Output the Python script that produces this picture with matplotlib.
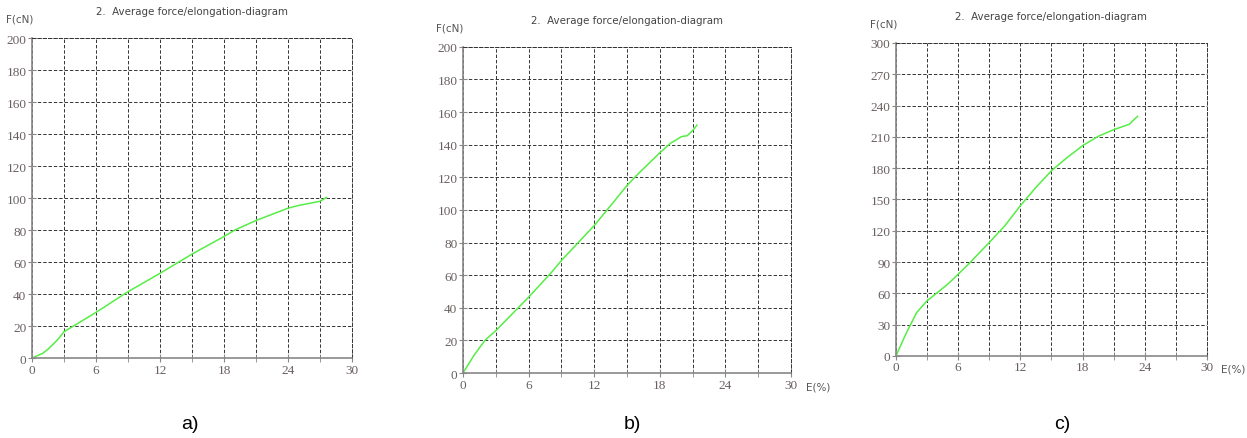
import matplotlib
matplotlib.use("Agg")
import matplotlib.pyplot as plt
from matplotlib.ticker import MultipleLocator

# force/elongation curves
elong_a = [0, 0.5, 1, 1.5, 2, 2.5, 3, 4, 6, 9, 12, 15, 18, 19, 21, 24, 25, 27, 27.6]
force_a = [0, 1.5, 3, 5.6, 8.8, 12.3, 16.5, 20.5, 28.6, 41.5, 53, 65, 76, 80, 86, 93.7, 95.4, 98, 100.4]

elong_b = [0, 1, 2, 3, 6, 8, 9, 12, 13.5, 15, 16, 18, 19, 20, 20.5, 21, 21.4]
force_b = [0, 10.8, 20, 26, 46.5, 61, 69, 90.4, 102.6, 115, 122, 135, 141, 145, 145.5, 148.6, 152]

elong_c = [0, 1, 2, 3, 4, 5, 6, 7, 9, 10.5, 12, 13.5, 15, 16.5, 18, 19.5, 21, 22.5, 23.3]
force_c = [0, 22, 41.6, 52.8, 60.8, 68.8, 78.3, 88, 108.7, 124.7, 144, 161.5, 177.5, 190, 201.5, 210.4, 216.8, 222, 229.6]

panel_labels = ["a)", "b)", "c)"]
y_max = [200, 200, 300]
y_step = [20, 20, 30]
title = "2.  Average force/elongation-diagram"

# axes rectangles in figure fraction (left, bottom, width, height)
rects = [
    (0.0257, 0.182, 0.2566, 0.729),
    (0.3713, 0.148, 0.2630, 0.743),
    (0.7185, 0.187, 0.2494, 0.713),
]
label_x = [0.152, 0.507, 0.852]
show_e_label = [False, True, True]

fig = plt.figure(figsize=(12.47, 4.39), dpi=100)

grid_style = dict(color="#333333", linestyle=(0, (3.5, 2)), linewidth=0.7)

data = [(elong_a, force_a), (elong_b, force_b), (elong_c, force_c)]
for i, (x, y) in enumerate(data):
    ax = fig.add_axes(rects[i])
    ax.plot(x, y, color="#55ee44", linewidth=1.1)
    ax.set_xlim(0, 30)
    ax.set_ylim(0, y_max[i])
    ax.xaxis.set_major_locator(MultipleLocator(6))
    ax.xaxis.set_minor_locator(MultipleLocator(3))
    ax.yaxis.set_major_locator(MultipleLocator(y_step[i]))
    ax.grid(True, which="both", **grid_style)
    ax.set_axisbelow(True)
    for side in ["top", "right"]:
        ax.spines[side].set_color(grid_style["color"])
        ax.spines[side].set_linestyle(grid_style["linestyle"])
        ax.spines[side].set_linewidth(grid_style["linewidth"])
    for side in ["left", "bottom"]:
        ax.spines[side].set_color("#888888")
        ax.spines[side].set_linewidth(1.2)
    ax.tick_params(which="both", direction="inout", length=6, color="#888888",
                   labelsize=9.5, labelcolor="#6a6060", pad=1)
    for lab in ax.get_xticklabels() + ax.get_yticklabels():
        lab.set_family("Liberation Serif")
    ax.set_title(title, fontsize=7.4, color="#444444", pad=17)
    ax.text(-0.04, 1.045, "F(cN)", transform=ax.transAxes, fontsize=7.5,
            color="#555555", ha="center", va="bottom")
    if show_e_label[i]:
        ax.text(1.045, -0.025, "E(%)", transform=ax.transAxes, fontsize=7.5,
                color="#555555", ha="left", va="top")
    fig.text(label_x[i], 0.032, panel_labels[i], fontsize=14, ha="center",
             va="center", family="Liberation Sans")

fig.savefig("out.png", dpi=100)
